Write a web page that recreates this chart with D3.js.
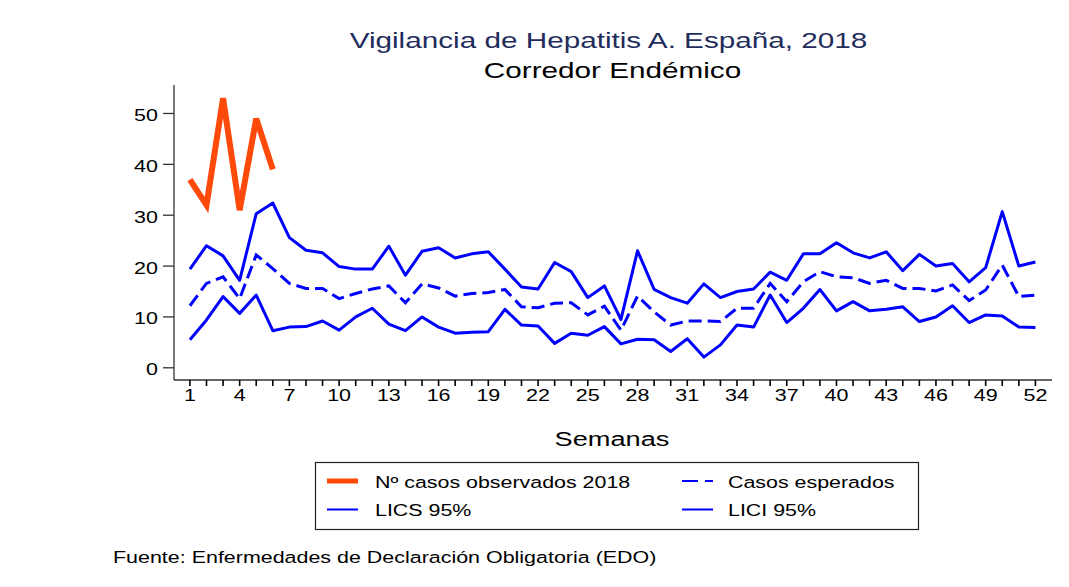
<!DOCTYPE html>
<html>
<head>
<meta charset="utf-8">
<script src="https://cdn.jsdelivr.net/npm/d3@7"></script>
<style>
  html, body { margin: 0; padding: 0; background: #fff; }
  text { font-family: "Liberation Sans", Arial, sans-serif; }
</style>
</head>
<body>
<svg id="chart" width="1069" height="587"></svg>
<script>
// ---- Data ----
const weeks = d3.range(1, 53);
const observed2018 = [37, 32, 53, 31, 49, 39];
const expectedCases = [12.2,16.6,17.9,13.6,22.2,19.5,16.6,15.6,15.6,13.6,
  14.6,15.5,16.1,12.8,16.5,15.7,14.1,14.6,14.8,15.4,
  12.0,11.8,12.7,12.8,10.4,12.1,7.4,14.1,11.0,8.4,
  9.2,9.2,9.1,11.7,11.7,16.6,13.0,16.9,18.9,17.9,
  17.7,16.6,17.2,15.6,15.6,15.1,16.3,13.2,15.3,20.2,14.0,14.3];
const lics95 = [19.4,24.0,22.0,17.2,30.3,32.4,25.6,23.1,22.6,19.9,
  19.4,19.4,23.9,18.2,22.9,23.6,21.6,22.4,22.8,19.4,
  15.9,15.5,20.7,18.9,13.8,16.1,9.5,23.0,15.4,13.8,
  12.7,16.5,13.8,15.0,15.5,18.8,17.2,22.4,22.4,24.6,
  22.6,21.6,22.8,19.1,22.3,20.0,20.5,16.9,19.7,30.7,20.0,20.8];
const lici95 = [5.5,9.4,14.0,10.7,14.3,7.3,8.0,8.1,9.2,7.4,
  10.0,11.7,8.6,7.3,10.0,8.0,6.8,7.0,7.1,11.5,
  8.4,8.2,4.8,6.8,6.4,8.1,4.7,5.6,5.5,3.2,
  5.7,2.1,4.5,8.4,8.0,14.3,8.9,11.7,15.4,11.2,
  13.0,11.2,11.5,12.0,9.1,10.0,12.2,8.9,10.4,10.2,8.0,7.9];
const yTicks = [0, 10, 20, 30, 40, 50];
const xTickLabels = d3.range(1, 53, 3);
const titleText = "Vigilancia de Hepatitis A. España, 2018";
const subtitleText = "Corredor Endémico";
const xTitle = "Semanas";
const sourceText = "Fuente: Enfermedades de Declaración Obligatoria (EDO)";
const legendItems = [
  {label: "Nº casos observados 2018", key: "obs"},
  {label: "Casos esperados", key: "exp"},
  {label: "LICS 95%", key: "lics"},
  {label: "LICI 95%", key: "lici"}
];

// ---- Layout ----
const svg = d3.select("#chart");
const x = d3.scaleLinear().domain([0.04, 53]).range([174, 1052]);
const y = d3.scaleLinear().domain([-2.4, 55.6]).range([380, 85]);
const BLUE = "#0000ff", ORANGE = "#ff4a0a", AXIS = "#333";

// text with the horizontal stretch of the original image
function stext(g, tx, ty, str, size, sx, anchor, color) {
  return g.append("text")
    .attr("transform", `translate(${tx},${ty}) scale(${sx},1)`)
    .attr("text-anchor", anchor || "start")
    .style("font-size", size + "px")
    .attr("fill", color || "#000")
    .text(str);
}

// Titles
stext(svg, 608.5, 48, titleText, 22, 1.35, "middle", "#1f2d5c");
stext(svg, 612.5, 78, subtitleText, 22, 1.35, "middle", "#000");

// Y axis
const yAxis = svg.append("g");
yAxis.append("line").attr("x1", 174).attr("x2", 174).attr("y1", 85).attr("y2", 380)
  .attr("stroke", AXIS).attr("stroke-width", 1.3);
yTicks.forEach(t => {
  yAxis.append("line").attr("x1", 163).attr("x2", 174).attr("y1", y(t)).attr("y2", y(t))
    .attr("stroke", AXIS).attr("stroke-width", 1.3);
  stext(yAxis, 158, y(t) + 7.5, String(t), 15.8, 1.36, "end");
});

// X axis
const xAxis = svg.append("g");
xAxis.append("line").attr("x1", 174).attr("x2", 1052).attr("y1", 380).attr("y2", 380)
  .attr("stroke", AXIS).attr("stroke-width", 1.3);
weeks.forEach(w => {
  xAxis.append("line").attr("x1", x(w)).attr("x2", x(w)).attr("y1", 380).attr("y2", 386)
    .attr("stroke", "#000").attr("stroke-width", 1.6);
});
xTickLabels.forEach(w => stext(xAxis, x(w), 400.5, String(w), 15.8, 1.36, "middle"));
stext(svg, 612, 446, xTitle, 20, 1.36, "middle");

// Lines
const line = d3.line().x((d, i) => x(i + 1)).y(d => y(d));
const plot = svg.append("g");
plot.append("path").datum(lics95).attr("d", line).attr("fill", "none")
  .attr("stroke", BLUE).attr("stroke-width", 3).attr("stroke-linejoin", "round");
plot.append("path").datum(lici95).attr("d", line).attr("fill", "none")
  .attr("stroke", BLUE).attr("stroke-width", 3).attr("stroke-linejoin", "round");
plot.append("path").datum(expectedCases).attr("d", line).attr("fill", "none")
  .attr("stroke", BLUE).attr("stroke-width", 3).attr("stroke-dasharray", "13,6");
plot.append("path").datum(observed2018).attr("d", line).attr("fill", "none")
  .attr("stroke", ORANGE).attr("stroke-width", 6).attr("stroke-linejoin", "miter");

// Legend
const lg = svg.append("g");
lg.append("rect").attr("x", 315.5).attr("y", 462.5).attr("width", 603).attr("height", 67)
  .attr("fill", "#fff").attr("stroke", "#222").attr("stroke-width", 1.2);
const legPos = [
  {sx: 327, tx: 375, ly: 481, ty: 487.5},
  {sx: 682, tx: 728, ly: 481, ty: 487.5},
  {sx: 327, tx: 375, ly: 509.5, ty: 515.8},
  {sx: 682, tx: 728, ly: 509.5, ty: 515.8}
];
legendItems.forEach((it, i) => {
  const p = legPos[i];
  if (it.key === "obs") {
    lg.append("line").attr("x1", p.sx).attr("x2", p.sx + 31).attr("y1", p.ly).attr("y2", p.ly)
      .attr("stroke", ORANGE).attr("stroke-width", 5);
  } else if (it.key === "exp") {
    lg.append("line").attr("x1", p.sx).attr("x2", p.sx + 31).attr("y1", p.ly).attr("y2", p.ly)
      .attr("stroke", BLUE).attr("stroke-width", 2).attr("stroke-dasharray", "16,7");
  } else {
    lg.append("line").attr("x1", p.sx).attr("x2", p.sx + 31).attr("y1", p.ly).attr("y2", p.ly)
      .attr("stroke", BLUE).attr("stroke-width", 2);
  }
  stext(lg, p.tx, p.ty, it.label, 16.6, 1.29, "start");
});

// Source
stext(svg, 113, 563, sourceText, 16.5, 1.3, "start");
</script>
</body>
</html>
